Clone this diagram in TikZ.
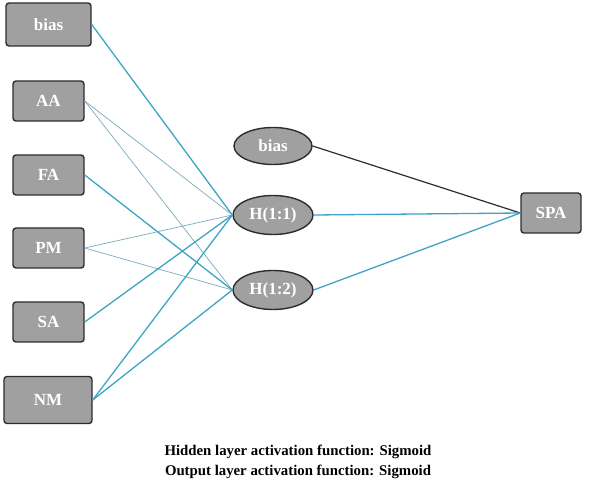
\documentclass[tikz,border=0pt]{standalone}
\usepackage{fontspec}
\setmainfont{Liberation Serif}
\usetikzlibrary{shapes.geometric}
\definecolor{nodegray}{RGB}{160,160,160}
\definecolor{edgedark}{RGB}{45,45,45}
\definecolor{linkteal}{RGB}{62,164,196}
\definecolor{linkpale}{RGB}{118,172,186}
\tikzset{
  inbox/.style={draw=edgedark, fill=nodegray, rounded corners=3pt, line width=1.4pt,
    minimum width=71pt, minimum height=40pt, text=white, font=\fontsize{17}{19}\selectfont\bfseries},
  hidnode/.style={ellipse, draw=edgedark, fill=nodegray, line width=1.4pt,
    minimum width=80pt, minimum height=39pt, inner sep=0pt, text=white, font=\fontsize{17}{19}\selectfont\bfseries},
  linkthick/.style={draw=linkteal, line width=1.3pt},
  linkthin/.style={draw=linkpale, line width=0.7pt},
  biaslink/.style={draw=edgedark, line width=1.2pt}
}
\begin{document}
\begin{tikzpicture}[x=1pt,y=-1pt]
  \useasboundingbox (0,0) rectangle (595,486);

  % input layer
  \node[inbox, minimum width=85pt, minimum height=43pt] (bias) at (48.5,24.5) {bias};
  \node[inbox] (aa) at (48.5,101) {AA};
  \node[inbox] (fa) at (48.5,175) {FA};
  \node[inbox] (pm) at (48.5,248) {PM};
  \node[inbox] (sa) at (48.5,322) {SA};
  \node[inbox, minimum width=88pt, minimum height=47pt] (nm) at (48,400) {NM};

  % hidden layer
  \node[hidnode, minimum width=78pt, minimum height=37pt] (hbias) at (273,146) {bias};
  \node[hidnode] (h11) at (273,215) {H(1:1)};
  \node[hidnode] (h12) at (273,290) {H(1:2)};

  % output layer
  \node[inbox, minimum width=60pt] (spa) at (551,213) {SPA};

  % connections
  \draw[linkthick] (bias.east) -- (h11.west);
  \draw[linkthin] (aa.east) -- (h11.west);
  \draw[linkthin] (aa.east) -- (h12.west);
  \draw[linkthick] (fa.east) -- (h12.west);
  \draw[linkthin] (pm.east) -- (h11.west);
  \draw[linkthin] (pm.east) -- (h12.west);
  \draw[linkthick] (sa.east) -- (h11.west);
  \draw[linkthick] (nm.east) -- (h11.west);
  \draw[linkthick] (nm.east) -- (h12.west);

  \draw[biaslink] (hbias.east) -- (spa.west);
  \draw[linkthick] (h11.east) -- (spa.west);
  \draw[linkthick] (h12.east) -- (spa.west);

  \node[align=center, font=\fontsize{14.8}{20}\selectfont\bfseries] (note) at (298,462)
    {Hidden layer activation function: Sigmoid\\Output layer activation function: Sigmoid};
\end{tikzpicture}
\end{document}
